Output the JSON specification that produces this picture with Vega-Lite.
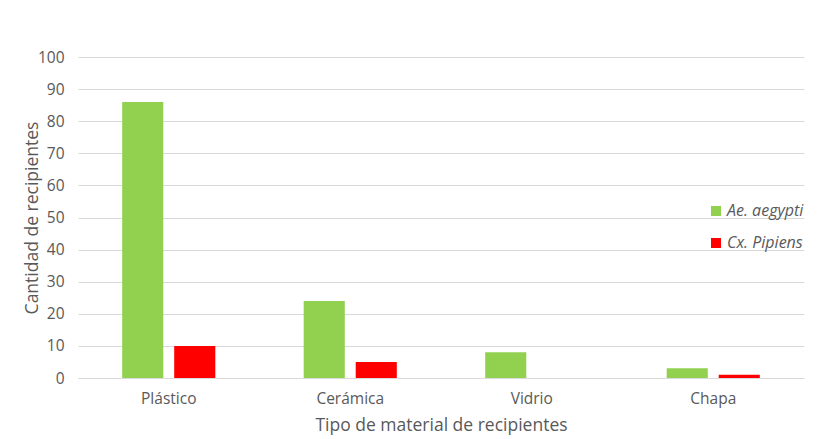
{
  "$schema": "https://vega.github.io/schema/vega-lite/v6.json",
  "width": 726,
  "height": 321,
  "autosize": {"type": "none"},
  "padding": {"left": 78, "top": 57, "right": 17, "bottom": 61},
  "background": "white",
  "data": {
    "values": [
      {"material": "Plástico", "especie": "Ae. aegypti", "cantidad": 86},
      {"material": "Plástico", "especie": "Cx. Pipiens", "cantidad": 10},
      {"material": "Cerámica", "especie": "Ae. aegypti", "cantidad": 24},
      {"material": "Cerámica", "especie": "Cx. Pipiens", "cantidad": 5},
      {"material": "Vidrio", "especie": "Ae. aegypti", "cantidad": 8},
      {"material": "Vidrio", "especie": "Cx. Pipiens", "cantidad": 0},
      {"material": "Chapa", "especie": "Ae. aegypti", "cantidad": 3},
      {"material": "Chapa", "especie": "Cx. Pipiens", "cantidad": 1}
    ]
  },
  "mark": {"type": "bar"},
  "encoding": {
    "x": {
      "field": "material",
      "type": "nominal",
      "sort": ["Plástico", "Cerámica", "Vidrio", "Chapa"],
      "title": "Tipo de material de recipientes",
      "scale": {"paddingInner": 0.487, "paddingOuter": 0.2435},
      "axis": {
        "labelAngle": 0,
        "ticks": false,
        "domainColor": "#D9D9D9",
        "labelPadding": 13,
        "titlePadding": 10
      }
    },
    "xOffset": {
      "field": "especie",
      "type": "nominal",
      "scale": {"paddingInner": 0.21, "paddingOuter": 0}
    },
    "y": {
      "field": "cantidad",
      "type": "quantitative",
      "title": "Cantidad de recipientes",
      "scale": {"domain": [0, 100], "nice": false},
      "axis": {
        "values": [0, 10, 20, 30, 40, 50, 60, 70, 80, 90, 100],
        "ticks": false,
        "domain": false,
        "labelPadding": 14,
        "titlePadding": -4
      }
    },
    "color": {
      "field": "especie",
      "type": "nominal",
      "scale": {"domain": ["Ae. aegypti", "Cx. Pipiens"], "range": ["#92D050", "#FF0000"]},
      "legend": {
        "title": null,
        "orient": "none",
        "legendX": 630,
        "legendY": 146,
        "symbolType": "square",
        "symbolSize": 100,
        "symbolStrokeWidth": 0,
        "labelFontStyle": "italic",
        "labelFontSize": 16,
        "labelColor": "#595959",
        "labelFont": "Open Sans",
        "rowPadding": 16,
        "labelOffset": 3
      }
    }
  },
  "config": {
    "view": {"stroke": null},
    "axis": {
      "labelFont": "Open Sans",
      "titleFont": "Open Sans",
      "labelFontSize": 15.5,
      "titleFontSize": 17.5,
      "labelColor": "#595959",
      "titleColor": "#595959",
      "titleFontWeight": "normal",
      "gridColor": "#D9D9D9",
      "gridWidth": 1
    },
    "axisX": {"grid": false}
  }
}
